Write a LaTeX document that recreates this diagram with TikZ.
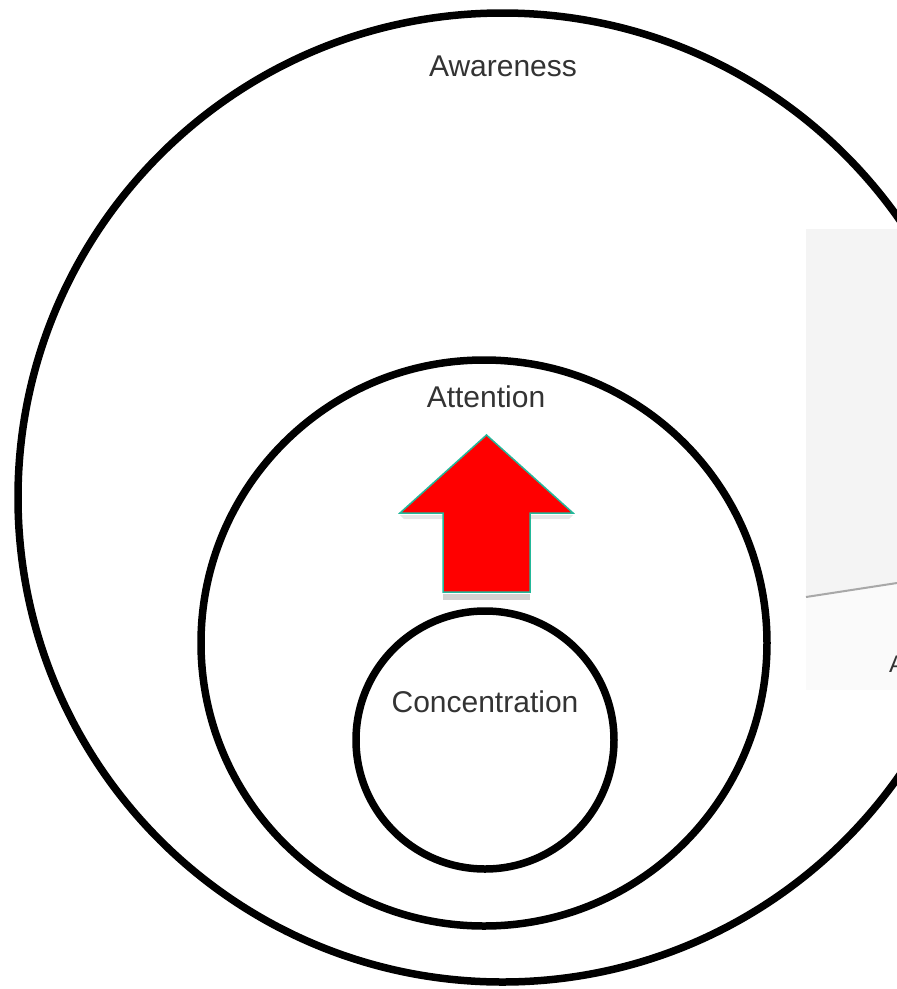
\documentclass[tikz,border=0pt]{standalone}
\usepackage{fontspec}
\setmainfont{Liberation Sans}
\definecolor{txt}{HTML}{333333}
\definecolor{arrowline}{HTML}{22B89A}
\definecolor{panelA}{HTML}{F4F4F4}
\definecolor{panelB}{HTML}{FAFAFA}
\definecolor{panelline}{HTML}{A8A8A8}
\tikzset{
  ring/.style={draw=black, line width=7.5pt},
  lbl/.style={text=txt, anchor=base, inner sep=0pt, font=\fontsize{30}{36}\selectfont},
  bigarrow/.style={fill=red, draw=arrowline, line width=1.5pt, line join=miter},
}
\begin{document}
\begin{tikzpicture}[x=1pt,y=-1pt]
\useasboundingbox (0,0) rectangle (897,989);
\clip (0,0) rectangle (897,989);
\fill[white] (0,0) rectangle (897,989);
% side panel
\fill[panelB] (806,229) rectangle (897,690);
\fill[panelA] (806,229) -- (897,229) -- (897,583) -- (806,597) -- cycle;
\draw[panelline, line width=2pt] (806,597) -- (897,583);
\node[text=txt, font=\fontsize{24}{28}\selectfont, anchor=base west, inner sep=0pt] (pa) at (889,672) {A};
% circles
\node[ring, circle, minimum size=969pt, inner sep=0pt] (aware) at (502.5,497.5) {};
\node[ring, circle, minimum size=566pt, inner sep=0pt] (atten) at (484,643) {};
\node[ring, circle, minimum size=258pt, inner sep=0pt] (conc) at (485,740) {};
% labels
\node[lbl] (lawareness) at (503,76) {Awareness};
\node[lbl] (lattention) at (486,407) {Attention};
\node[lbl] (lconc) at (485,712) {Concentration};
% arrow shadow
\fill[black, opacity=0.18] (443,594) rectangle (530,600);
\fill[black, opacity=0.10] (400,515) -- (443,515) -- (443,519) -- (404,519) -- cycle;
\fill[black, opacity=0.10] (530,515) -- (573,515) -- (569,519) -- (530,519) -- cycle;
% arrow
\draw[bigarrow] (486.5,435) -- (573,513) -- (530,513) -- (530,592) -- (443,592) -- (443,513) -- (400,513) -- cycle;
\end{tikzpicture}
\end{document}
